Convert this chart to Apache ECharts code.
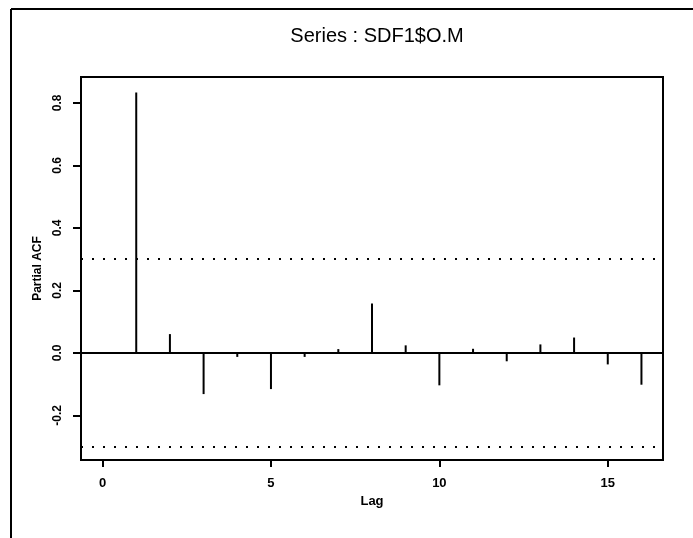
<!DOCTYPE html>
<html>
<head>
<meta charset="utf-8">
<script src="https://cdn.jsdelivr.net/npm/echarts@6/dist/echarts.min.js"></script>
<style>
html,body{margin:0;padding:0;background:#fff;}
#chart{width:693px;height:538px;}
</style>
</head>
<body>
<div id="chart"></div>
<script>
const titleText = "Series : SDF1$O.M";
const lags = [1, 2, 3, 4, 5, 6, 7, 8, 9, 10, 11, 12, 13, 14, 15, 16];
const pacf = [0.833, 0.060, -0.132, -0.013, -0.116, -0.013, 0.012, 0.158, 0.024, -0.104, 0.013, -0.027, 0.027, 0.049, -0.037, -0.102];
const ciBound = 0.3015;
const xTicks = [0, 5, 10, 15];
const yTicks = [-0.2, 0.0, 0.2, 0.4, 0.6, 0.8];
const xRange = [-0.64, 16.64];
const yRange = [-0.343, 0.883];

const chart = echarts.init(document.getElementById('chart'));
const font = '"Liberation Sans", Arial, sans-serif';

chart.setOption({
  backgroundColor: '#fff',
  animation: false,
  title: {
    text: titleText,
    left: 372, top: 21, textAlign: 'center',
    textStyle: {fontFamily: font, fontSize: 20, fontWeight: 'normal', color: '#000'}
  },
  grid: {left: 81, right: 30, top: 77, bottom: 78, show: true, borderColor: '#000', borderWidth: 2, backgroundColor: 'transparent'},
  xAxis: {
    type: 'value', min: xRange[0], max: xRange[1],
    name: 'Lag', nameLocation: 'middle', nameGap: 32,
    nameTextStyle: {fontFamily: font, fontSize: 13, fontWeight: 'bold', color: '#000'},
    axisLine: {show: true, onZero: false, lineStyle: {color: '#000', width: 2}},
    axisTick: {show: true, length: 7, lineStyle: {color: '#000', width: 2}, customValues: xTicks},
    axisLabel: {show: true, margin: 17, fontFamily: font, fontSize: 13, fontWeight: 'bold', color: '#000', customValues: xTicks, formatter: v => String(v)},
    splitLine: {show: false}
  },
  yAxis: {
    type: 'value', min: yRange[0], max: yRange[1],
    name: 'Partial ACF', nameLocation: 'middle', nameGap: 31, nameRotate: 90,
    nameTextStyle: {fontFamily: font, fontSize: 12, fontWeight: 'bold', color: '#000'},
    axisLine: {show: true, onZero: false, lineStyle: {color: '#000', width: 2}},
    axisTick: {show: true, length: 8, lineStyle: {color: '#000', width: 2}, customValues: yTicks},
    axisLabel: {show: true, margin: 17, rotate: 90, fontFamily: font, fontSize: 12, fontWeight: 'bold', color: '#000', customValues: yTicks, formatter: v => v.toFixed(1)},
    splitLine: {show: false}
  },
  graphic: [
    {type: 'line', shape: {x1: 11, y1: 9, x2: 11, y2: 538}, style: {stroke: '#000', lineWidth: 2}},
    {type: 'line', shape: {x1: 11, y1: 9, x2: 693, y2: 9}, style: {stroke: '#000', lineWidth: 2}}
  ],
  series: [{
    type: 'bar',
    data: lags.map((l, i) => [l, pacf[i]]),
    barWidth: 2,
    itemStyle: {color: '#000'},
    markLine: {
      symbol: 'none', silent: true,
      label: {show: false},
      data: [
        {yAxis: 0, lineStyle: {type: 'solid', color: '#000', width: 2}},
        {yAxis: ciBound, lineStyle: {type: [2, 9], color: '#000', width: 2}},
        {yAxis: -ciBound, lineStyle: {type: [2, 9], color: '#000', width: 2}}
      ]
    }
  }]
});
</script>
</body>
</html>
